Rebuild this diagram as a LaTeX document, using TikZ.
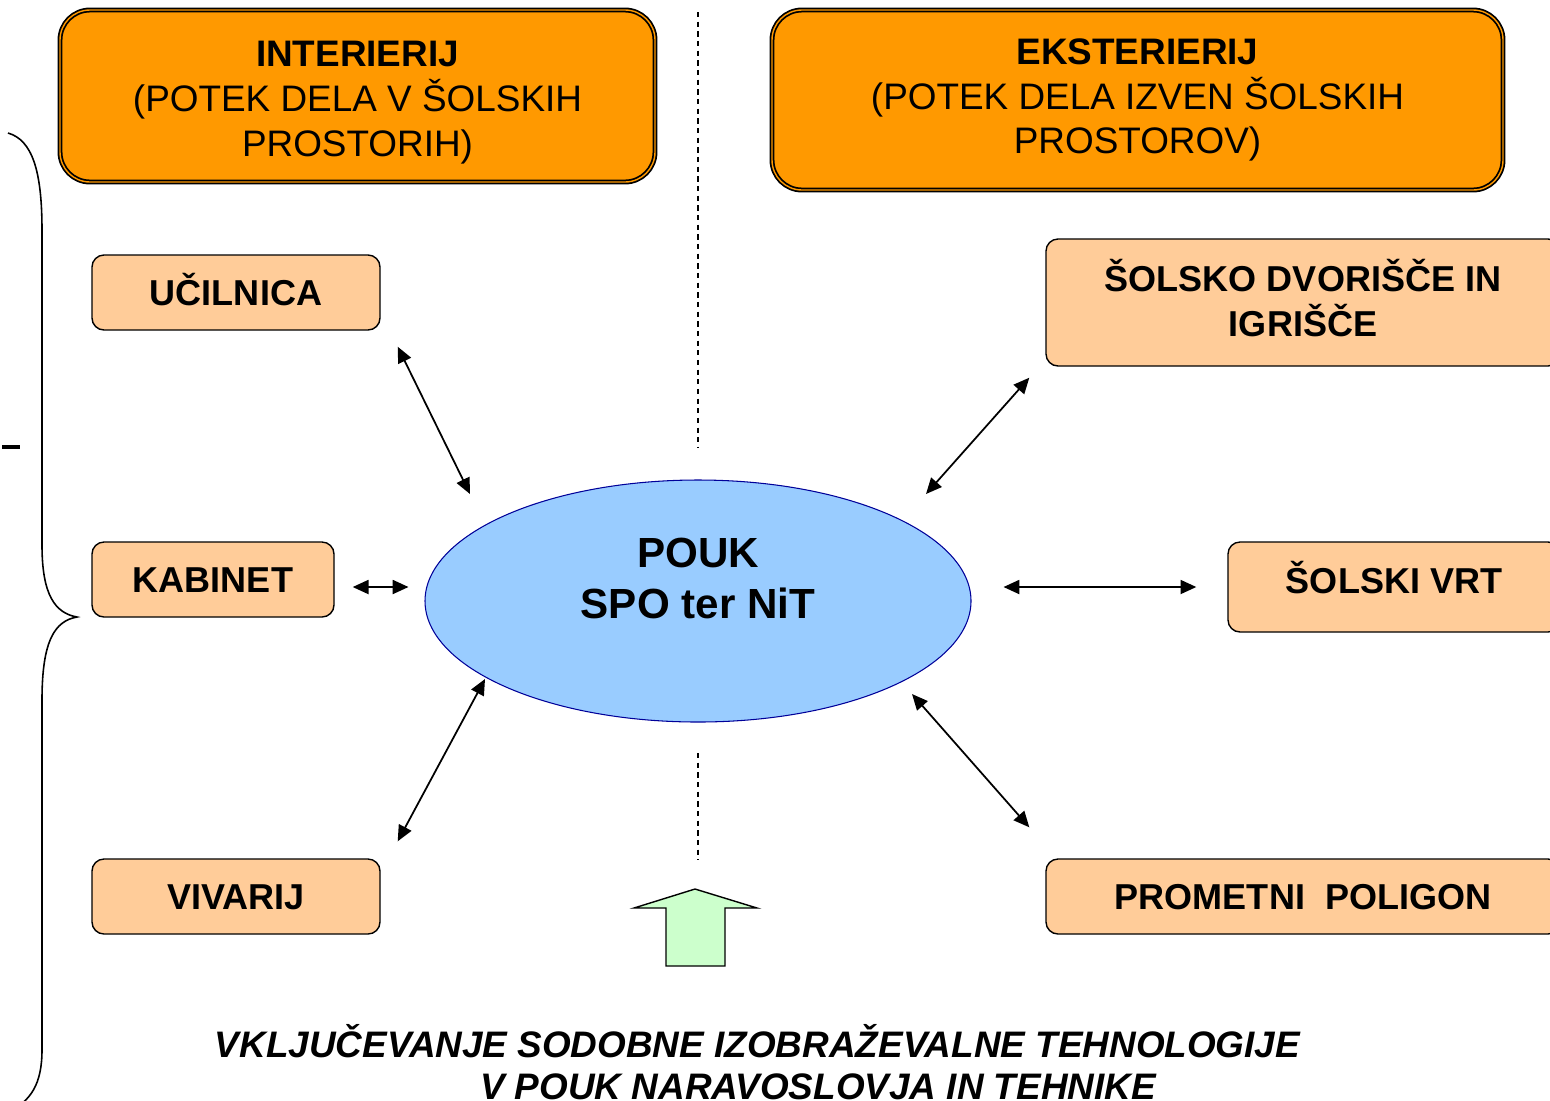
\documentclass[tikz,border=0pt]{standalone}
\usepackage{fontspec}
\setmainfont{Liberation Sans}
\usetikzlibrary{arrows.meta,shapes.geometric}
\definecolor{color_head}{RGB}{255,153,0}
\definecolor{color_place}{RGB}{255,204,153}
\definecolor{color_pouk}{RGB}{153,204,255}
\definecolor{color_pouk_line}{RGB}{0,0,153}
\definecolor{color_up}{RGB}{204,255,204}
\newcommand{\px}{0.02cm}

\begin{document}
\begin{tikzpicture}[
    x=\px,y=-\px,
    headbox/.style={draw,line width=1pt,double=color_head,double distance=0.8pt,
        fill=color_head,rounded corners=0.6cm,inner sep=0pt,align=center,
        font=\fontsize{21}{25.5}\selectfont},
    placebox/.style={draw,line width=0.8pt,fill=color_place,rounded corners=0.24cm,
        inner sep=0pt,align=center,font=\fontsize{20.5}{25.5}\selectfont\bfseries},
    oneline/.style={text height=15pt,text depth=0pt},
    linkarrow/.style={{Triangle[length=9pt,width=8pt]}-{Triangle[length=9pt,width=8pt]},line width=1pt}
]
    % page is 1550 x 1100 px, y grows downwards
    \useasboundingbox (0,0) rectangle (1550,1100);

    % headings
    \node[headbox,minimum width=595*\px,minimum height=172*\px] (interier) at (357.5,96)
        {\rule{0pt}{21.8pt}\textbf{INTERIERIJ}\\(POTEK DELA V ŠOLSKIH\\PROSTORIH)};
    \node[headbox,minimum width=731*\px,minimum height=180*\px] (eksterier) at (1137.5,100)
        {\textbf{EKSTERIERIJ}\\(POTEK DELA IZVEN ŠOLSKIH\\PROSTOROV)};

    % dividing line
    \draw[line width=0.6pt,dash pattern=on 3pt off 2.5pt] (698,12) -- (698,447);
    \draw[line width=0.6pt,dash pattern=on 3pt off 2.5pt] (698,753) -- (698,860);

    % places
    \node[placebox,oneline,minimum width=288*\px,minimum height=75*\px] (ucilnica) at (236,292.5) {UČILNICA};
    \node[placebox,oneline,minimum width=242*\px,minimum height=75*\px] (kabinet) at (213,579.5) {KABINET};
    \node[placebox,oneline,minimum width=288*\px,minimum height=75*\px] (vivarij) at (236,896.5) {VIVARIJ};
    \node[placebox,minimum width=514*\px,minimum height=127*\px] (dvorisce) at (1303,302.5)
        {ŠOLSKO DVORIŠČE IN\\IGRIŠČE\rule[-5.7pt]{0pt}{5.7pt}};
    \node[placebox,oneline,text depth=8pt,minimum width=332*\px,minimum height=90*\px] (vrt) at (1394,587) {ŠOLSKI VRT};
    \node[placebox,oneline,minimum width=514*\px,minimum height=75*\px] (poligon) at (1303,896.5)
        {PROMETNI~~POLIGON};

    % centre
    \node[ellipse,draw=color_pouk_line,fill=color_pouk,line width=0.6pt,inner sep=0pt,
        minimum width=546*\px,minimum height=242*\px] (pouk) at (698,601) {};
    \node[align=center,font=\fontsize{24}{29}\selectfont\bfseries] (poukText)
        at ([yshift=23*\px]pouk.center) {POUK\\SPO ter NiT};

    % links
    \draw[linkarrow] ([shift={(17,16)}]ucilnica.south east) -- ([shift={(-228,-107)}]pouk.center);
    \draw[linkarrow] ([shift={(18,7.5)}]kabinet.east) -- ([shift={(-16,-14)}]pouk.west);
    \draw[linkarrow] ([shift={(17,-17)}]vivarij.north east) -- ([shift={(-213,78)}]pouk.center);
    \draw[linkarrow] ([shift={(-16,11)}]dvorisce.south west) -- ([shift={(228,-107)}]pouk.center);
    \draw[linkarrow] ([shift={(-31,0)}]vrt.west) -- ([shift={(32,-14)}]pouk.east);
    \draw[linkarrow] ([shift={(-16,-31)}]poligon.north west) -- ([shift={(214,93)}]pouk.center);

    % technology arrow
    \draw[line width=0.8pt,fill=color_up] (634,908) -- (695,889) -- (757,908) -- (725,908)
        -- (725,966) -- (666,966) -- (666,908) -- cycle;
    \node[anchor=base,font=\fontsize{21}{25}\selectfont\bfseries\itshape] (tehnologija)
        at (757.5,1057) {VKLJUČEVANJE SODOBNE IZOBRAŽEVALNE TEHNOLOGIJE};
    \node[anchor=base,font=\fontsize{21}{25}\selectfont\bfseries\itshape] (naravoslovje)
        at (818,1099) {V POUK NARAVOSLOVJA IN TEHNIKE};

    % brace on the left
    \draw[line width=0.9pt] (8,133) .. controls (32,140) and (42,170) .. (42,230)
        -- (42,545) .. controls (42,595) and (55,613) .. (77,617)
        .. controls (55,621) and (42,640) .. (42,700) -- (42,1050)
        .. controls (42,1085) and (30,1100) .. (12,1110);
    \draw[line width=2pt] (2,447) -- (20,447);

\end{tikzpicture}
\end{document}
